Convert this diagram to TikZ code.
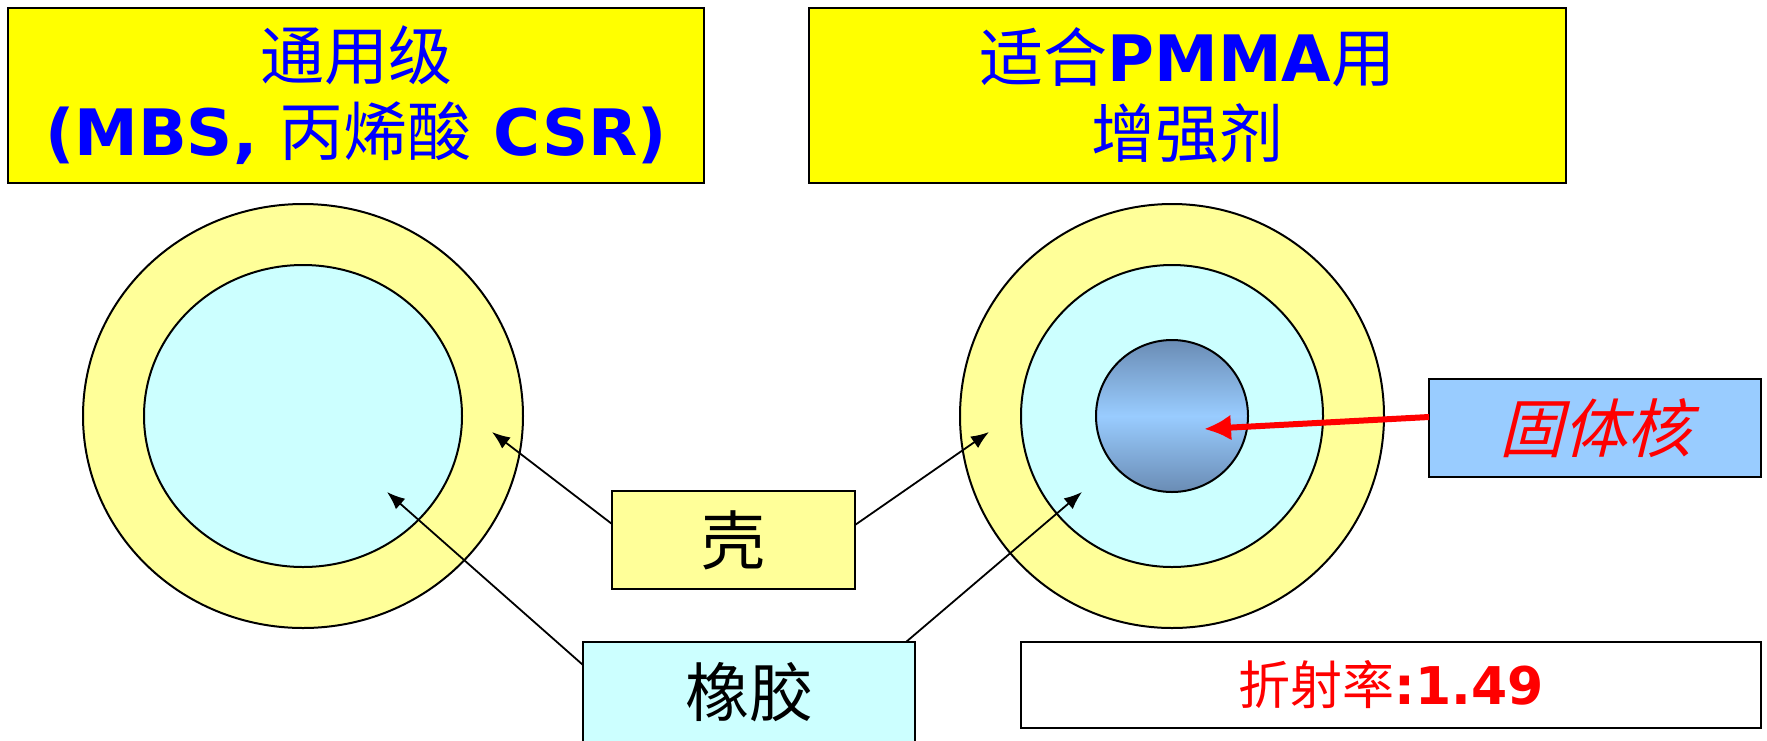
\documentclass[tikz,border=0pt]{standalone}
\usepackage{fontspec}
\setmainfont{DejaVu Sans}
\newfontfamily\cjk{Noto Sans CJK SC}
\newfontfamily\cjksl{Noto Sans CJK SC}[FakeSlant=0.25]
\newcommand{\tcjk}[1]{{\cjk\mdseries #1}}
\usetikzlibrary{arrows.meta,shapes.geometric}
\definecolor{titleyellow}{HTML}{FFFF00}
\definecolor{titleblue}{HTML}{0000FF}
\definecolor{shellyellow}{HTML}{FFFF99}
\definecolor{rubbercyan}{HTML}{CCFFFF}
\definecolor{corelight}{HTML}{99CCFF}
\definecolor{coredark}{HTML}{6A8CB4}
\definecolor{labelred}{HTML}{FF0000}
\begin{document}
\begin{tikzpicture}[x=1pt,y=-1pt,
  titlebox/.style={draw=black, line width=2.5pt, fill=titleyellow, text=titleblue, align=center,
    inner sep=0pt, outer sep=0pt, font=\fontsize{64}{76}\selectfont},
  labelbox/.style={draw=black, line width=2pt, inner sep=0pt, outer sep=0pt,
    font=\fontsize{64}{76}\selectfont},
  ring/.style={draw=black, line width=2pt, inner sep=0pt, outer sep=0pt},
  ptr/.style={draw=black, line width=1.8pt, -{Latex[length=18pt,width=14pt]}},
  redptr/.style={draw=labelred, line width=6pt, -{Latex[length=27pt,width=26pt]}}
]
\useasboundingbox (0,0) rectangle (1767,740);
\fill[white] (0,0) rectangle (1767,740);
\clip (0,0) rectangle (1767,740);

% title boxes
\node[titlebox, minimum width=696pt, minimum height=175pt] (t1) at (356,95.5)
  {\tcjk{通用级}\\\textbf{(MBS, \tcjk{丙烯酸} CSR)}};
\node[titlebox, minimum width=757pt, minimum height=175pt] (t2) at (1187.5,95.5)
  {\tcjk{适合}\textbf{PMMA}\tcjk{用}\\\tcjk{增强剂}};

% left particle
\node[ring, ellipse, fill=shellyellow, minimum width=440pt, minimum height=424pt] (outerL) at (303,416) {};
\node[ring, ellipse, fill=rubbercyan, minimum width=318pt, minimum height=302pt] (innerL) at (303,416) {};

% right particle
\node[ring, circle, fill=shellyellow, minimum size=424pt] (outerR) at (1172,416) {};
\node[ring, circle, fill=rubbercyan, minimum size=302pt] (innerR) at (1172,416) {};
\node[ring, circle, top color=coredark, bottom color=coredark, middle color=corelight, minimum size=152pt] (core) at (1172,416) {};

% label boxes
\node[labelbox, fill=shellyellow, minimum width=243pt, minimum height=98pt] (shell) at (733.5,540) {\cjk 壳};
\node[labelbox, fill=rubbercyan, minimum width=332pt, minimum height=100pt] (rubber) at (749,692) {\cjk 橡胶};
\node[labelbox, fill=corelight, text=labelred, minimum width=332pt, minimum height=98pt] (corelabel) at (1595,428) {\cjksl 固体核};
\node[labelbox, fill=white, text=labelred, minimum width=740pt, minimum height=86pt,
  font=\fontsize{52}{60}\selectfont] (index) at (1391,685) {\tcjk{折射率}\textbf{:1.49}};

% arrow targets
\coordinate (shellL) at (492,432);
\coordinate (shellR) at (989,432);
\coordinate (rubL) at (387,492);
\coordinate (rubR) at (1082,492);
\coordinate (coreT) at (1204,429);

% connectors
\draw[ptr] ([yshift=16pt]shell.west) -- (shellL);
\draw[ptr] ([yshift=15pt]shell.east) -- (shellR);
\draw[ptr] ([yshift=27pt]rubber.west) -- (rubL);
\draw[ptr] ([xshift=-9pt]rubber.north east) -- (rubR);
\draw[redptr] ([yshift=11pt]corelabel.west) -- (coreT);
\end{tikzpicture}
\end{document}
